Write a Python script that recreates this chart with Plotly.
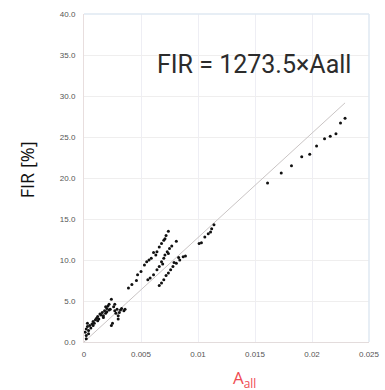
import plotly.graph_objects as go

# Data
x_low = [0.0001, 0.0002, 0.0002, 0.0003, 0.0003, 0.0004, 0.0005, 0.0006, 0.0007, 0.0008,
         0.0009, 0.0010, 0.0011, 0.0012, 0.0013, 0.0014, 0.0015, 0.0016, 0.0017, 0.0018,
         0.0019, 0.0020, 0.0020, 0.0021, 0.0022, 0.0022, 0.0023, 0.0024, 0.0024, 0.0025,
         0.0026, 0.0027, 0.0028, 0.0029, 0.0030, 0.0031, 0.0032, 0.0033, 0.0035, 0.0036,
         0.0002, 0.0004, 0.0008, 0.0012, 0.0017, 0.0019, 0.0027, 0.0030]
y_low = [1.2, 0.8, 1.6, 1.9, 2.3, 1.4, 2.0, 1.7, 2.2, 2.5,
         2.3, 2.7, 2.9, 3.1, 2.8, 3.4, 3.3, 3.6, 3.2, 3.8,
         3.5, 4.1, 3.7, 4.4, 3.9, 4.6, 4.0, 5.2, 2.0, 2.3,
         4.3, 3.8, 3.5, 4.0, 3.2, 3.6, 3.9, 4.1, 3.8, 4.0,
         0.4, 1.0, 2.0, 2.6, 3.0, 4.3, 4.6, 2.8]

x_band1 = [0.0039, 0.0042, 0.0046, 0.0047, 0.0050, 0.0053, 0.0055, 0.0057, 0.0059, 0.0061,
           0.0064, 0.0066, 0.0068, 0.0070, 0.0071, 0.0074, 0.0063, 0.0072]
y_band1 = [6.6, 7.0, 7.5, 8.2, 8.6, 9.4, 9.8, 10.0, 10.2, 10.9,
           11.0, 11.6, 12.0, 12.4, 12.6, 13.5, 10.6, 13.0]

x_band2 = [0.0056, 0.0058, 0.0061, 0.0064, 0.0066, 0.0068, 0.0070, 0.0071, 0.0073, 0.0075,
           0.0077, 0.0081, 0.0069, 0.0074]
y_band2 = [7.6, 7.8, 8.2, 8.8, 9.2, 9.8, 10.2, 10.6, 11.0, 11.4,
           11.7, 12.3, 9.5, 10.8]

x_band3 = [0.0066, 0.0068, 0.0070, 0.0072, 0.0074, 0.0076, 0.0078, 0.0081, 0.0084, 0.0087,
           0.0089, 0.0079, 0.0083]
y_band3 = [6.9, 7.2, 7.6, 8.1, 8.4, 8.8, 9.2, 9.6, 10.0, 10.4,
           10.5, 9.7, 10.3]

x_mid = [0.0101, 0.0103, 0.0106, 0.0109, 0.0111, 0.0114, 0.0112]
y_mid = [12.0, 12.1, 12.8, 13.2, 13.4, 14.3, 13.8]

x_high = [0.0161, 0.0173, 0.0182, 0.0191, 0.0198, 0.0204, 0.0211, 0.0216, 0.0221, 0.0225, 0.0229]
y_high = [19.4, 20.6, 21.5, 22.6, 22.9, 23.9, 24.8, 25.1, 25.4, 26.7, 27.3]

slope = 1273.5
fit_x = [0.0, 0.0229]
fit_y = [slope * v for v in fit_x]

x_ticks = [0, 0.005, 0.01, 0.015, 0.02, 0.025]
x_tick_labels = ["0", "0.005", "0.01", "0.015", "0.02", "0.025"]
y_ticks = [0, 5, 10, 15, 20, 25, 30, 35, 40]
y_tick_labels = ["0.0", "5.0", "10.0", "15.0", "20.0", "25.0", "30.0", "35.0", "40.0"]

xs = x_low + x_band1 + x_band2 + x_band3 + x_mid + x_high
ys = y_low + y_band1 + y_band2 + y_band3 + y_mid + y_high

L, R, T, B = 84, 380, 14, 342
W, H = R - L, B - T


def px(xp):
    return (xp - L) / W


def py(yp):
    return (B - yp) / H


fig = go.Figure()
fig.add_trace(go.Scatter(x=fit_x, y=fit_y, mode="lines",
                         line=dict(color="#c9c4c4", width=1), hoverinfo="skip"))
fig.add_trace(go.Scatter(x=xs, y=ys, mode="markers",
                         marker=dict(color="#111111", size=3)))

# white box behind the equation
fig.add_shape(type="rect", xref="paper", yref="paper",
              x0=px(113), x1=px(376), y0=py(92), y1=py(41),
              fillcolor="white", line=dict(width=0), layer="below")

fig.add_annotation(text="FIR = 1273.5×Aall", xref="paper", yref="paper",
                   x=px(261), y=py(64), xanchor="center", yanchor="middle", showarrow=False,
                   font=dict(family="Roboto", size=25, color="#2c2c2c"))
fig.add_annotation(text="A<sub>all</sub>", xref="paper", yref="paper",
                   x=px(251), y=py(364), xanchor="center", yanchor="top", showarrow=False,
                   font=dict(family="Open Sans", size=17, color="#ef4b52"))
fig.add_annotation(text="FIR [%]", xref="paper", yref="paper",
                   x=px(25), y=py(170), xanchor="center", yanchor="middle",
                   showarrow=False, textangle=-90,
                   font=dict(family="Open Sans", size=18, color="#111111"))

fig.update_layout(
    width=385, height=390,
    margin=dict(l=L, r=385 - R, t=T, b=390 - B),
    paper_bgcolor="white", plot_bgcolor="white",
    showlegend=False,
    xaxis=dict(range=[0, 0.025], tickvals=x_ticks, ticktext=x_tick_labels,
               showgrid=True, gridcolor="#eeeef4", zeroline=False,
               showline=True, linecolor="#e3dcdc", ticklabeloverflow="allow",
               tickfont=dict(family="Arial", size=8, color="#555555"),
               ticks="outside", ticklen=4, tickcolor="white"),
    yaxis=dict(range=[0, 40], tickvals=y_ticks, ticktext=y_tick_labels,
               showgrid=True, gridcolor="#efeeee", zeroline=False,
               showline=True, linecolor="#e8dede",
               tickfont=dict(family="Arial", size=8, color="#555555"), ticks="outside",
               ticklen=6, tickcolor="white"),
)
# top and right border
fig.add_shape(type="line", xref="paper", yref="paper", x0=0, x1=1, y0=1, y1=1,
              line=dict(color="#dfe8f2", width=1.5))
fig.add_shape(type="line", xref="paper", yref="paper", x0=1, x1=1, y0=0, y1=1,
              line=dict(color="#dfe8f2", width=1.5))

fig.write_html("out.html")
